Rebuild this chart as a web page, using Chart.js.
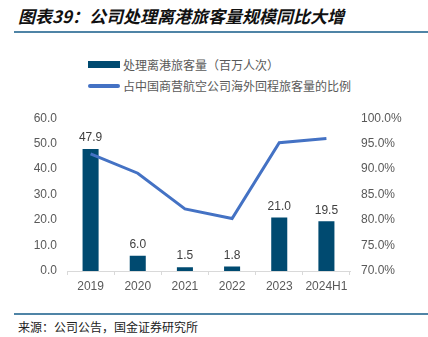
<!DOCTYPE html>
<html>
<head>
<meta charset="utf-8">
<script src="https://cdn.jsdelivr.net/npm/chart.js@4"></script>
<style>
  body { margin: 0; width: 428px; height: 337px; background: #fff; overflow: hidden; position: relative; font-family: "Noto Sans CJK SC", sans-serif; }
  #title { position: absolute; left: 18px; top: 3px; font-size: 17px; font-weight: bold; font-style: italic; color: #111; white-space: nowrap; }
  .rule { position: absolute; left: 14px; right: 0; height: 2px; background: #4f84a6; }
  #legend { position: absolute; left: 88px; top: 54px; font-size: 12px; color: #595959; }
  .lg { display: flex; align-items: center; height: 21px; white-space: nowrap; }
  .sw { width: 32px; margin-right: 3px; }
  #source { position: absolute; left: 18px; top: 318px; font-size: 12px; color: #222; white-space: nowrap; }
  #wrap { position: absolute; left: 0; top: 100px; width: 428px; height: 200px; }
</style>
</head>
<body>
<div id="title">图表39：公司处理离港旅客量规模同比大增</div>
<div class="rule" style="top:31px"></div>
<div id="legend"></div>
<div id="wrap"><canvas id="c"></canvas></div>
<div class="rule" style="top:313px"></div>
<div id="source">来源：公司公告，国金证券研究所</div>
<script>
// categories and series
const years = ['2019', '2020', '2021', '2022', '2023', '2024H1'];
const passengers = [47.9, 6.0, 1.5, 1.8, 21.0, 19.5];   // 百万人次
const shareOfReturn = [93.0, 89.2, 82.2, 80.3, 95.2, 96.0]; // %
const leftTicks = [0, 10, 20, 30, 40, 50, 60];
const rightTicks = [70, 75, 80, 85, 90, 95, 100];

const barLabel = '处理离港旅客量（百万人次）';
const lineLabel = '占中国商营航空公司海外回程旅客量的比例';
const barColor = '#004a70';
const lineColor = '#4472c4';
const tickColor = '#595959';
const tickFont = { size: 12, family: '"Liberation Sans", Arial, sans-serif' };

// value labels above the bars
const barValues = {
  id: 'barValues',
  afterDatasetsDraw(chart) {
    const ctx = chart.ctx;
    const idx = chart.data.datasets.findIndex(d => d.type === 'bar');
    const meta = chart.getDatasetMeta(idx);
    ctx.save();
    ctx.font = '12px "Liberation Sans", Arial, sans-serif';
    ctx.fillStyle = '#404040';
    ctx.textAlign = 'center';
    ctx.textBaseline = 'bottom';
    meta.data.forEach((bar, i) => {
      ctx.fillText(passengers[i].toFixed(1), bar.x, bar.y - 5);
    });
    ctx.restore();
  }
};

const chart = new Chart(document.getElementById('c'), {
  data: {
    labels: years,
    datasets: [
      {
        type: 'line',
        label: lineLabel,
        data: shareOfReturn,
        yAxisID: 'y1',
        borderColor: lineColor,
        backgroundColor: lineColor,
        borderWidth: 3,
        pointRadius: 0,
        tension: 0,
        order: 0
      },
      {
        type: 'bar',
        label: barLabel,
        data: passengers,
        yAxisID: 'y',
        backgroundColor: barColor,
        barPercentage: 0.34,
        categoryPercentage: 1.0,
        order: 1
      }
    ]
  },
  options: {
    responsive: true,
    maintainAspectRatio: false,
    animation: false,
    layout: { padding: { top: 13, left: 0, right: 0, bottom: 0 } },
    plugins: { legend: { display: false }, tooltip: { enabled: false } },
    scales: {
      x: {
        offset: true,
        grid: { display: true, drawOnChartArea: false, offset: true, color: '#d9d9d9', tickLength: 4 },
        border: { display: true, color: '#d9d9d9', width: 1 },
        ticks: { color: tickColor, font: tickFont, padding: 4, maxRotation: 0, minRotation: 0, autoSkip: false },
        afterFit(s) { s.height = 29; }
      },
      y: {
        position: 'left',
        min: 0, max: 60,
        grid: { display: false, drawTicks: false },
        border: { display: false },
        afterBuildTicks(s) { s.ticks = leftTicks.map(v => ({ value: v })); },
        ticks: { color: tickColor, padding: 10, font: tickFont, callback: v => v.toFixed(1) },
        afterFit(s) { s.width = 67; }
      },
      y1: {
        position: 'right',
        min: 70, max: 100,
        grid: { display: false, drawTicks: false },
        border: { display: false },
        afterBuildTicks(s) { s.ticks = rightTicks.map(v => ({ value: v })); },
        ticks: { color: tickColor, padding: 11, font: tickFont, callback: v => v.toFixed(1) + '%' },
        afterFit(s) { s.width = 78; }
      }
    }
  },
  plugins: [barValues]
});

// HTML legend built from the datasets, bar first
const legend = document.getElementById('legend');
[chart.data.datasets[1], chart.data.datasets[0]].forEach(ds => {
  const row = document.createElement('div');
  row.className = 'lg';
  const sw = document.createElement('span');
  sw.className = 'sw';
  sw.style.height = ds.type === 'bar' ? '7px' : '4px';
  sw.style.borderRadius = ds.type === 'bar' ? '0' : '2px';
  sw.style.background = ds.type === 'bar' ? ds.backgroundColor : ds.borderColor;
  row.appendChild(sw);
  row.appendChild(document.createTextNode(ds.label));
  legend.appendChild(row);
});
</script>
</body>
</html>
